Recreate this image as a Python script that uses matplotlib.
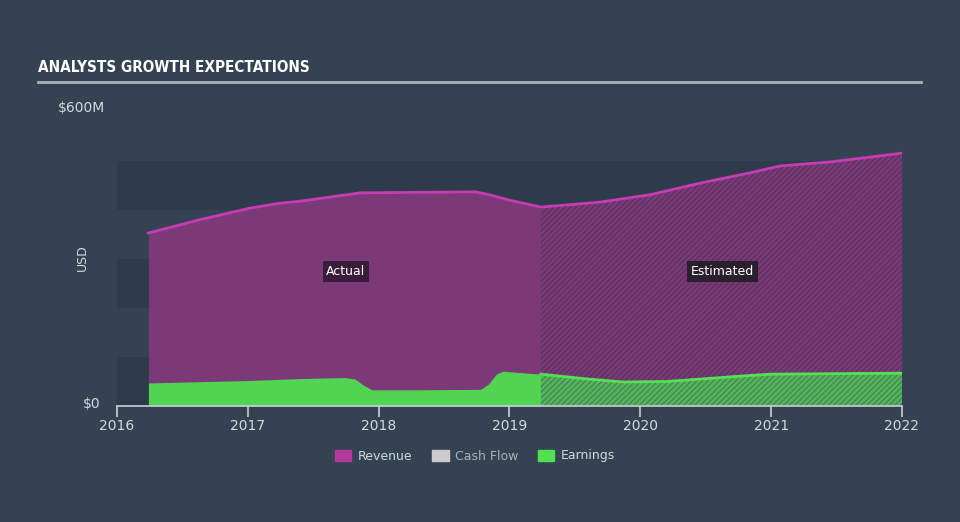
import numpy as np
import matplotlib.pyplot as plt
from matplotlib.patches import Patch

# Data (USD millions)
rev_years = [2016.24, 2016.63, 2017.02, 2017.25, 2017.40, 2017.86, 2018.26, 2018.74,
             2018.85, 2019.0, 2019.24, 2019.69, 2020.07, 2020.46, 2020.84, 2021.07,
             2021.45, 2022.0]
revenue = [353, 380, 404, 414, 418, 435, 436, 437, 431, 420, 406, 416, 431, 455,
           476, 490, 498, 516]

earn_years = [2016.24, 2017.0, 2017.4, 2017.74, 2017.82, 2017.88, 2017.95, 2018.3,
              2018.78, 2018.84, 2018.9, 2018.95, 2019.24, 2019.6, 2019.87, 2020.2,
              2020.77, 2021.0, 2021.5, 2022.0]
earnings = [47, 52, 56, 58, 55, 43, 33, 33, 34, 45, 65, 71, 65, 55, 49, 50, 61, 65,
            66, 67]

split_year = 2019.24
years = [2016, 2017, 2018, 2019, 2020, 2021, 2022]

bg = '#344252'
band = '#2e3b4a'
rev_fill = '#7b3a77'
rev_line = '#c53cb3'
earn_fill = '#52d452'
earn_line = '#55e055'
text_col = '#d5d9de'

plt.rcParams['hatch.linewidth'] = 0.7

fig = plt.figure(figsize=(9.6, 5.22), dpi=100, facecolor=bg)
ax = fig.add_axes([117 / 960, 1 - 406 / 522, 785 / 960, 294 / 522])
ax.set_facecolor(bg)
ax.set_xlim(2016, 2022)
ax.set_ylim(0, 600)

# alternating horizontal bands
for lo in (0, 200, 400):
    ax.axhspan(lo, lo + 100, color=band, zorder=0, lw=0)

rx = np.array(rev_years)
ry = np.array(revenue)
ex = np.array(earn_years)
ey = np.array(earnings)

# actual part
ma = rx <= split_year
ax.fill_between(rx[ma], 0, ry[ma], color=rev_fill, lw=0, zorder=1)
me = ex <= split_year
ax.fill_between(ex[me], 0, ey[me], color=earn_fill, lw=0, zorder=2)

# estimated part (hatched)
mb = rx >= split_year
ax.fill_between(rx[mb], 0, ry[mb], facecolor='#7a3a78', edgecolor='#553056',
                hatch='//////', lw=0, zorder=1)
mf = ex >= split_year
ax.fill_between(ex[mf], 0, ey[mf], facecolor='#55b35c', edgecolor='#3f7a50',
                hatch='//////', lw=0, zorder=2)

ax.plot(rx, ry, color=rev_line, lw=2, zorder=3)
ax.plot(ex[mf], ey[mf], color=earn_line, lw=2, zorder=3)

# labels for actual / estimated
ax.text(2017.75, 275, 'Actual', color='white', fontsize=9, ha='center', va='center',
        bbox=dict(boxstyle='square,pad=0.3', fc='#3b1d3b', ec='none'), zorder=5)
ax.text(2020.63, 275, 'Estimated', color='white', fontsize=9, ha='center', va='center',
        bbox=dict(boxstyle='square,pad=0.3', fc='#2a1f2e', ec='none'), zorder=5)

# axes styling
for s in ('top', 'right', 'left'):
    ax.spines[s].set_visible(False)
ax.spines['bottom'].set_color('#c8ced6')
ax.spines['bottom'].set_linewidth(1.2)
ax.set_xticks(years)
ax.set_xticklabels([str(y) for y in years])
ax.tick_params(axis='x', colors='#c8ced6', labelcolor=text_col, labelsize=10,
               length=8, width=1.2, pad=1)
ax.set_yticks([])

fig.text(101 / 960, 1 - 404 / 522, '$0', color=text_col, fontsize=10,
         ha='right', va='center')
fig.text(58 / 960, 1 - 108 / 522, '$600M', color=text_col, fontsize=10,
         ha='left', va='center')
fig.text(82 / 960, 1 - 258 / 522, 'USD', color=text_col, fontsize=9,
         ha='center', va='center', rotation=90)

# title and underline
fig.text(38 / 960, 1 - 67 / 522, 'ANALYSTS GROWTH EXPECTATIONS', color='white',
         fontsize=11, fontweight='bold', fontstretch='condensed',
         family=['DejaVu Sans'], ha='left', va='center')
fig.add_artist(plt.Line2D([38 / 960, 921 / 960], [1 - 82 / 522, 1 - 82 / 522],
                          color='#a8b0b8', lw=2))

handles = [Patch(color='#b0389f', label='Revenue'),
           Patch(color='#cccccc', label='Cash Flow'),
           Patch(color='#4fe04f', label='Earnings')]
leg = fig.legend(handles=handles, loc='center', ncol=3,
                 bbox_to_anchor=(475 / 960, 1 - 456 / 522), frameon=False,
                 fontsize=9, handlelength=1.3, handleheight=1.0, columnspacing=1.6,
                 handletextpad=0.5)
for t, c in zip(leg.get_texts(), [text_col, '#a9b1ba', text_col]):
    t.set_color(c)

fig.savefig('out.png', dpi=100, facecolor=bg)
